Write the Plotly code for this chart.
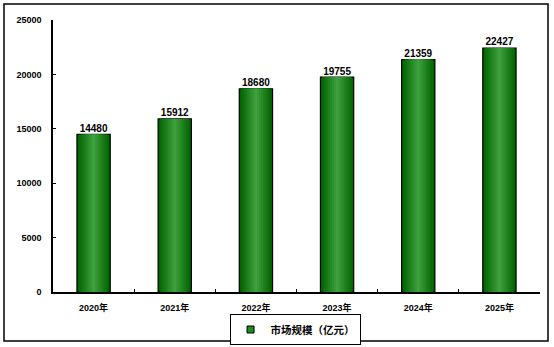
import plotly.graph_objects as go

years = ["2020年", "2021年", "2022年", "2023年", "2024年", "2025年"]
values = [14480, 15912, 18680, 19755, 21359, 22427]
y_ticks = [0, 5000, 10000, 15000, 20000, 25000]
y_tick_labels = ["0", "5000", "10000", "15000", "20000", "25000"]
series_name = "市场规模（亿元）"

FONT = "Liberation Sans, Arial, Noto Sans CJK SC, sans-serif"

fig = go.Figure()

# simulate horizontal gradient (dark edges -> lighter centre) with overlaid bars
outer_w = 0.41
steps = 9
dark = (0, 100, 0)
light = (62, 160, 62)
for i in range(steps):
    t = i / (steps - 1)
    c = tuple(round(dark[k] + (light[k] - dark[k]) * t) for k in range(3))
    w = outer_w * (1 - 0.92 * t)
    fig.add_trace(go.Bar(
        x=years, y=values, width=w,
        marker=dict(color=f"rgb{c}",
                    line=dict(color="black", width=1.2 if i == 0 else 0)),
        name=series_name, showlegend=False,
        hoverinfo="skip" if i else None,
    ))

# legend entry (small square swatch)
fig.add_trace(go.Scatter(
    x=[years[0]], y=[None], mode="markers", name=series_name,
    marker=dict(symbol="square", size=7, color="rgb(30,140,30)",
                line=dict(color="black", width=1)),
    showlegend=True,
))

fig.add_trace(go.Scatter(
    x=years, y=values, mode="text",
    text=[str(v) for v in values], textposition="top center",
    textfont=dict(family=FONT, size=10, color="black", weight="bold"),
    showlegend=False, cliponaxis=False,
))

fig.update_layout(
    width=554, height=347,
    margin=dict(l=53, r=14, t=20, b=55, autoexpand=False),
    barmode="overlay",
    plot_bgcolor="white", paper_bgcolor="white",
    font=dict(family=FONT, size=9, color="black"),
    showlegend=True,
    legend=dict(
        xref="paper", yref="container",
        x=0.497, y=1 - 329.5 / 347, xanchor="center", yanchor="middle",
        orientation="h", bgcolor="white", bordercolor="black", borderwidth=1,
        font=dict(family=FONT, size=10.5, color="black", weight="bold"),
        itemwidth=30, tracegroupgap=0,
    ),
    shapes=[dict(type="rect", xref="paper", yref="paper",
                 x0=-49 / 487, x1=495 / 487, y0=-49 / 272, y1=288 / 272,
                 line=dict(color="black", width=1.5), layer="below")],
)

fig.update_xaxes(
    showline=True, linecolor="black", linewidth=1.5,
    ticks="inside", ticklen=3, tickcolor="black", tickson="boundaries",
    tickfont=dict(family=FONT, size=9, color="black", weight="bold"),
    showgrid=False, ticklabelstandoff=6,
)
fig.update_yaxes(
    range=[0, 25000], tickvals=y_ticks, ticktext=y_tick_labels,
    showline=True, linecolor="black", linewidth=1.5,
    ticks="inside", ticklen=3, tickcolor="black",
    tickfont=dict(family=FONT, size=9, color="black", weight="bold"),
    showgrid=False, zeroline=False, ticklabelstandoff=8,
)

fig.write_html("out.html")
